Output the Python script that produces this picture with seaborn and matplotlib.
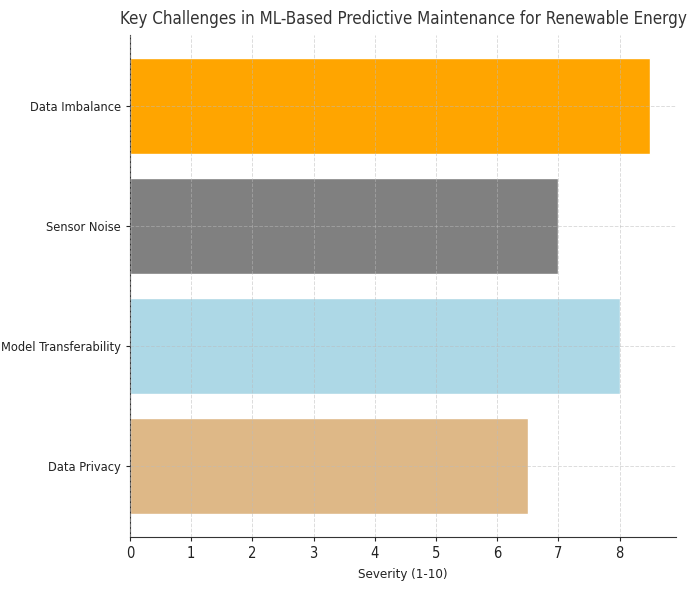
import pandas as pd
import matplotlib.pyplot as plt
import seaborn as sns

# Data (top to bottom as shown)
challenges = ["Data Imbalance", "Sensor Noise", "Model Transferability", "Data Privacy"]
severity = [8.5, 7, 8, 6.5]
bar_colors = ["orange", "gray", "lightblue", "burlywood"]

df = pd.DataFrame({"challenge": challenges, "severity": severity})

sns.set_style("white")
plt.rcParams['font.family'] = ['DejaVu Sans']
plt.rcParams['font.stretch'] = 'condensed'

fig = plt.figure(figsize=(6.95, 5.9), dpi=100)
ax = fig.add_axes([0.187, 0.090, 0.786, 0.851])

sns.barplot(data=df, y="challenge", x="severity", hue="challenge",
            palette=bar_colors, order=challenges, width=0.8,
            legend=False, saturation=1, ax=ax)

ax.set_xlim(0, 8.925)
ax.set_ylim(3.59, -0.59)
ax.set_title("Key Challenges in ML-Based Predictive Maintenance for Renewable Energy",
             fontsize=12.2, color="#333333", pad=8)
ax.set_xlabel("Severity (1-10)", fontsize=9.5, color="#222222", labelpad=5)
ax.set_ylabel("")
ax.tick_params(axis="y", labelsize=9.2, length=3, left=True, labelcolor="#222222")
ax.tick_params(axis="x", labelsize=10.5, length=3, bottom=True, labelcolor="#222222")
ax.grid(True, linestyle="--", color="#bbbbbb", alpha=0.5, linewidth=0.7)
ax.set_axisbelow(False)
sns.despine(ax=ax)
for s in ["left", "bottom"]:
    ax.spines[s].set_color("#333333")

plt.savefig("out.png", dpi=100)
plt.close()
